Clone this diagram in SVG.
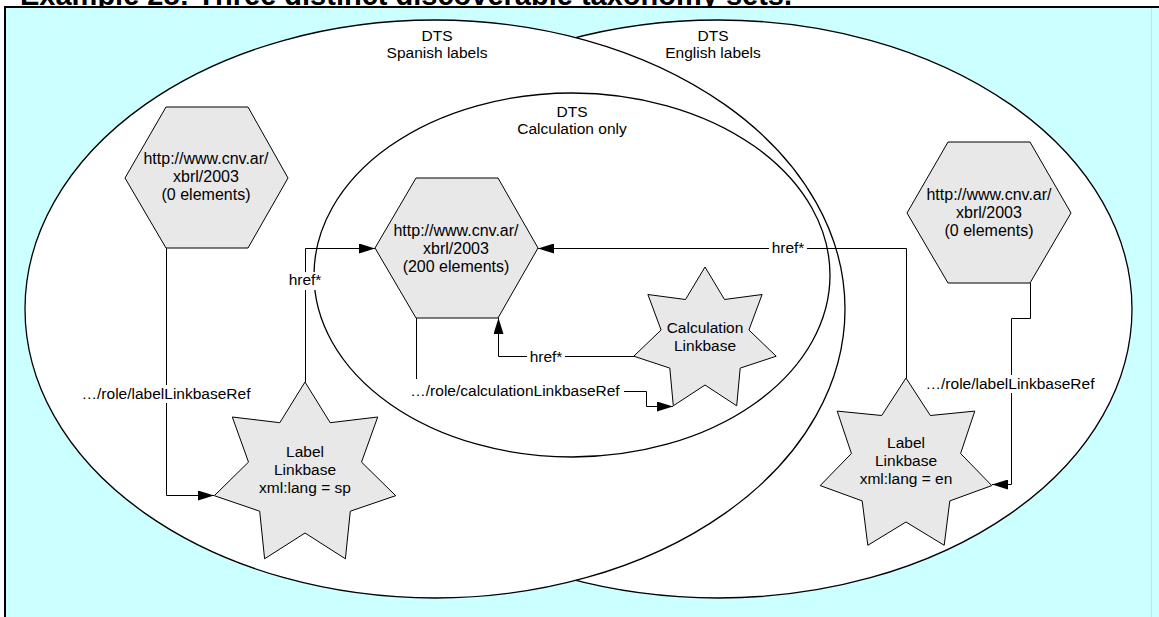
<svg xmlns="http://www.w3.org/2000/svg" width="1159" height="617" viewBox="0 0 1159 617">
<style>
text{font-family:"Liberation Sans",Arial,sans-serif;fill:#000}
.t{font-size:15.5px;text-anchor:middle}
.h{font-size:16px;text-anchor:middle}
.shape{fill:#E8E8E8;stroke:#000;stroke-width:1}
.ell{fill:#FFFFFF;stroke:#000;stroke-width:1.3}
.con{fill:none;stroke:#000;stroke-width:1}
.bg{fill:#FFFFFF}
</style>
<defs>
<marker id="arr" markerUnits="userSpaceOnUse" markerWidth="16" markerHeight="10" refX="16" refY="5" orient="auto">
<path d="M0,0 L16,5 L0,10 z" fill="#000"/>
</marker>
</defs>
<text x="20" y="4.5" style="font-size:29px;font-weight:bold">Example 28:  Three distinct discoverable taxonomy sets.</text>
<rect x="5" y="7" width="1170" height="630" fill="#CCFFFF" stroke="#000" stroke-width="2"/>
<line x1="1151.5" y1="8" x2="1151.5" y2="617" stroke="#B8E8E8" stroke-width="1"/>

<g id="dts-english">
<ellipse class="ell" cx="718" cy="309" rx="414" ry="289"/>
<text class="t" x="713" y="41">DTS</text>
<text class="t" x="713" y="58">English labels</text>
</g>
<g id="dts-spanish">
<ellipse class="ell" cx="435" cy="309" rx="410" ry="289"/>
<text class="t" x="437" y="41">DTS</text>
<text class="t" x="437" y="58">Spanish labels</text>
</g>
<g id="dts-calculation">
<ellipse class="ell" cx="572" cy="275" rx="258" ry="182"/>
<text class="t" x="572" y="117">DTS</text>
<text class="t" x="572" y="134">Calculation only</text>
</g>

<g id="connectors">
<path class="con" d="M166.5,248 V495.5 H214" marker-end="url(#arr)"/>
<rect class="bg" x="80" y="385" width="172" height="18"/>
<text class="t" x="166" y="399">…/role/labelLinkbaseRef</text>

<path class="con" d="M305.5,382 V248.5 H375" marker-end="url(#arr)"/>
<rect class="bg" x="288" y="272" width="36" height="18"/>
<text class="t" x="305" y="285">href*</text>

<path class="con" d="M634,356.5 H498.5 V318" marker-end="url(#arr)"/>
<rect class="bg" x="527" y="349" width="38" height="18"/>
<text class="t" x="546" y="362">href*</text>

<path class="con" d="M416.5,318 V391.5 H646.5 V406.5 H673" marker-end="url(#arr)"/>
<rect class="bg" x="407" y="379" width="217" height="22"/>
<text class="t" x="515" y="396">…/role/calculationLinkbaseRef</text>

<path class="con" d="M906.5,378 V248.5 H538" marker-end="url(#arr)"/>
<rect class="bg" x="769" y="240" width="38" height="18"/>
<text class="t" x="788" y="253">href*</text>

<path class="con" d="M1030.5,283 V318.5 H1011.5 V484.5 H992" marker-end="url(#arr)"/>
<rect class="bg" x="924" y="375" width="174" height="18"/>
<text class="t" x="1010" y="389">…/role/labelLinkbaseRef</text>
</g>

<g id="hex-left">
<polygon class="shape" points="125,178 166,107 248,107 288,178 248,248 166,248"/>
<text class="h" x="206" y="164">http://www.cnv.ar/</text>
<text class="h" x="206" y="182">xbrl/2003</text>
<text class="h" x="206" y="200">(0 elements)</text>
</g>
<g id="hex-center">
<polygon class="shape" points="375,248 416,178 498,178 538,248 498,318 416,318"/>
<text class="h" x="456" y="236">http://www.cnv.ar/</text>
<text class="h" x="456" y="254">xbrl/2003</text>
<text class="h" x="456" y="272">(200 elements)</text>
</g>
<g id="hex-right">
<polygon class="shape" points="907,213 948,142 1030,142 1071,213 1030,283 948,283"/>
<text class="h" x="989" y="200">http://www.cnv.ar/</text>
<text class="h" x="989" y="218">xbrl/2003</text>
<text class="h" x="989" y="236">(0 elements)</text>
</g>

<g id="star-calculation">
<polygon class="shape" points="705,267 724.5,299.5 762.1,294.5 748.9,330 776.2,356.2 740.2,368.1 736.7,405.8 705,385 673.3,405.8 669.8,368.1 633.8,356.2 661.1,330 647.9,294.5 685.5,299.5"/>
<text class="t" x="705" y="333">Calculation</text>
<text class="t" x="705" y="351">Linkbase</text>
</g>
<g id="star-label-sp">
<polygon class="shape" points="305,382 330.2,422.7 377.7,417 361.5,462.1 395.7,495.7 350.3,511.2 345.4,558.8 305,533 264.6,558.8 259.7,511.2 214.3,495.7 248.5,462.1 232.3,417 279.8,422.7"/>
<text class="t" x="305" y="457">Label</text>
<text class="t" x="305" y="475">Linkbase</text>
<text class="t" x="305" y="493">xml:lang = sp</text>
</g>
<g id="star-label-en">
<polygon class="shape" points="906,378 930.3,415.5 974.8,411.1 960.6,453.5 991.8,485.6 949.8,500.9 944.2,545.3 906,522 867.8,545.3 862.2,500.9 820.2,485.6 851.4,453.5 837.2,411.1 881.7,415.5"/>
<text class="t" x="906" y="448">Label</text>
<text class="t" x="906" y="466">Linkbase</text>
<text class="t" x="906" y="484">xml:lang = en</text>
</g>
</svg>
